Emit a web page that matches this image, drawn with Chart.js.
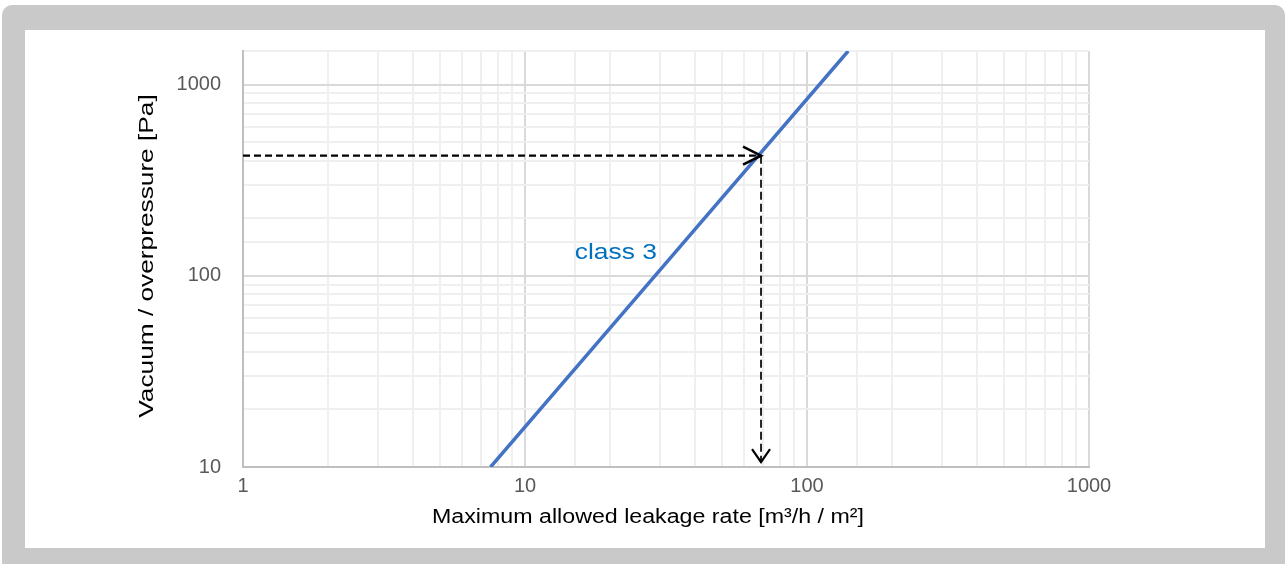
<!DOCTYPE html>
<html>
<head>
<meta charset="utf-8">
<script src="https://cdn.jsdelivr.net/npm/chart.js@4/dist/chart.umd.min.js"></script>
<style>
html,body{margin:0;padding:0;background:#ffffff;width:1287px;height:564px;overflow:hidden;}
#frame{position:absolute;left:2px;top:5px;width:1283px;height:575px;background:#c9c9c9;border-radius:10px;}
#panel{position:absolute;left:25px;top:30px;width:1240px;height:518px;background:#ffffff;}
canvas{display:block;}
</style>
</head>
<body>
<div id="frame"></div>
<div id="panel"><canvas id="c" width="1240" height="518"></canvas></div>
<script>
// ---- data ----
const xRange = [1, 1000];                 // leakage axis (log)
const yRange = [10, 1500];                // pressure axis (log)
const xTickLabels = [1, 10, 100, 1000];
const yTickLabels = [10, 100, 1000];

const class3Leakage = [7.55, 28.9, 140];  // m3/h/m2
const class3Pressure = [10, 100, 1500];   // Pa

const readLeakage = 68.7;                 // reading example
const readPressure = 425;
const hArrowLeakage = [1, readLeakage];
const hArrowPressure = [readPressure, readPressure];
const vArrowLeakage = [readLeakage, readLeakage];
const vArrowPressure = [readPressure, 10.6];

const seriesLabel = 'class 3';
const seriesLabelAt = [21.0, 122];        // [leakage, pressure]

const xTitle = 'Maximum allowed leakage rate [m\u00B3/h / m\u00B2]';
const yTitle = 'Vacuum / overpressure [Pa]';

// ---- helpers ----
const pts = (xs, ys) => xs.map((x, i) => ({x: x, y: ys[i]}));
const MAJOR = '#d9d9d9', MINOR = '#efefef';
const FONT = '"Liberation Sans", Arial, sans-serif';

function wideText(ctx, text, x, y, size, stretch, rot) {
  ctx.save();
  ctx.translate(x, y);
  if (rot) ctx.rotate(rot);
  ctx.scale(stretch, 1);
  ctx.font = size + 'px ' + FONT;
  ctx.fillText(text, 0, 0);
  ctx.restore();
}

const overlay = {
  id: 'overlay',
  afterDatasetsDraw(chart) {
    const ctx = chart.ctx;
    // arrow heads
    chart.data.datasets.forEach((ds, i) => {
      if (!ds.arrowHead) return;
      const meta = chart.getDatasetMeta(i);
      const n = meta.data.length;
      const a = meta.data[n - 2], b = meta.data[n - 1];
      let dx = b.x - a.x, dy = b.y - a.y;
      const L = Math.hypot(dx, dy); dx /= L; dy /= L;
      const back = ds.arrowHead.len, half = ds.arrowHead.half;
      ctx.save();
      ctx.strokeStyle = ds.borderColor;
      ctx.lineWidth = ds.arrowHead.width;
      ctx.lineJoin = 'miter';
      ctx.setLineDash([]);
      ctx.beginPath();
      ctx.moveTo(b.x - dx * back - dy * half, b.y - dy * back + dx * half);
      ctx.lineTo(b.x, b.y);
      ctx.lineTo(b.x - dx * back + dy * half, b.y - dy * back - dx * half);
      ctx.stroke();
      ctx.restore();
    });
    // series label
    const xs = chart.scales.x, ys = chart.scales.y;
    ctx.save();
    ctx.fillStyle = '#0070c0';
    ctx.textAlign = 'center';
    ctx.textBaseline = 'alphabetic';
    wideText(ctx, seriesLabel, xs.getPixelForValue(seriesLabelAt[0]), ys.getPixelForValue(seriesLabelAt[1]), 22, 1.2, 0);
    ctx.restore();
  },
  afterDraw(chart) {
    const ctx = chart.ctx;
    ctx.save();
    ctx.fillStyle = '#000000';
    ctx.textAlign = 'center';
    ctx.textBaseline = 'middle';
    wideText(ctx, xTitle, 623, 487, 20, 1.16, 0);
    wideText(ctx, yTitle, 122, 226, 21, 1.25, -Math.PI / 2);
    ctx.restore();
  }
};

new Chart(document.getElementById('c'), {
  type: 'scatter',
  data: {
    datasets: [
      {
        label: seriesLabel,
        data: pts(class3Leakage, class3Pressure),
        showLine: true, borderColor: '#4472c4', borderWidth: 3.5,
        pointRadius: 0, fill: false
      },
      {
        label: 'h',
        data: pts(hArrowLeakage, hArrowPressure),
        showLine: true, borderColor: '#000000', borderWidth: 2.2,
        borderDash: [7, 4], pointRadius: 0, fill: false,
        arrowHead: {len: 18, half: 9, width: 2.6}
      },
      {
        label: 'v',
        data: pts(vArrowLeakage, vArrowPressure),
        showLine: true, borderColor: '#000000', borderWidth: 1.7,
        borderDash: [8, 4], pointRadius: 0, fill: false,
        arrowHead: {len: 13, half: 9, width: 2.2}
      }
    ]
  },
  options: {
    responsive: false,
    animation: false,
    events: [],
    layout: {padding: {left: 0, right: 176, top: 21, bottom: 0}},
    plugins: {legend: {display: false}, tooltip: {enabled: false}},
    scales: {
      x: {
        type: 'logarithmic', min: xRange[0], max: xRange[1],
        afterFit(s) { s.height = 81; s.paddingLeft = 0; s.paddingRight = 0; s.paddingTop = 0; s.paddingBottom = 0; },
        border: {color: '#bfbfbf', width: 2},
        grid: {
          drawTicks: false, lineWidth: 2,
          color: (c) => xTickLabels.includes(c.tick && c.tick.value) ? MAJOR : MINOR
        },
        ticks: {
          autoSkip: false, maxRotation: 0, padding: 7, color: '#595959',
          font: {family: FONT, size: 20},
          callback: (v) => xTickLabels.includes(v) ? String(v) : ''
        }
      },
      y: {
        type: 'logarithmic', min: yRange[0], max: yRange[1],
        afterFit(s) { s.width = 218; s.paddingLeft = 0; s.paddingRight = 0; s.paddingTop = 0; s.paddingBottom = 0; },
        border: {color: '#bfbfbf', width: 2},
        grid: {
          drawTicks: false, lineWidth: 2,
          color: (c) => yTickLabels.includes(c.tick && c.tick.value) ? MAJOR : MINOR
        },
        ticks: {
          autoSkip: false, padding: 22, color: '#595959',
          font: {family: FONT, size: 20},
          callback: (v) => yTickLabels.includes(v) ? String(v) : ''
        }
      }
    }
  },
  plugins: [overlay]
});
</script>
</body>
</html>
